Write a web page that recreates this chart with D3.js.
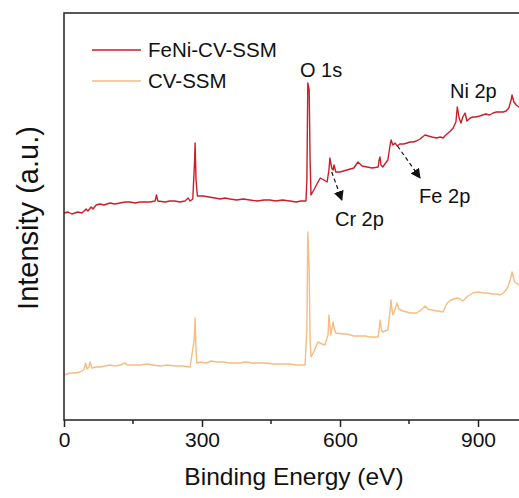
<!DOCTYPE html>
<html>
<head>
<meta charset="utf-8">
<script src="https://cdn.jsdelivr.net/npm/d3@7"></script>
<style>
  html, body { margin: 0; padding: 0; background: #fff; }
  svg { display: block; font-family: "Liberation Sans", Arial, sans-serif; }
</style>
</head>
<body>
<div id="chart"></div>
<script>
// XPS survey spectra — binding energy (eV) vs intensity (a.u.)
var feniEnergy = [0, 9, 17, 30, 39, 48, 52, 59, 63, 70, 78, 87, 100, 110, 122, 133, 143, 155, 165, 176,
  187, 198, 201, 204, 220, 230, 241, 252, 263, 270, 274, 280, 284, 285, 287, 290, 302, 315, 328, 340,
  350, 361, 375, 390, 404, 420, 435, 448, 460, 475, 491, 505, 515, 526, 528, 530, 533, 535, 537, 543,
  557, 565, 572, 576, 578, 582, 585, 587, 591, 600, 615, 630, 639, 648, 659, 670, 683, 685, 687, 689,
  693, 704, 709, 711, 715, 720, 724, 730, 738, 746, 752, 759, 766, 774, 779, 785, 792, 800, 810, 818,
  824, 830, 835, 840, 846, 852, 855, 859, 863, 867, 872, 876, 883, 889, 895, 904, 910, 917, 925, 933,
  940, 948, 955, 961, 967, 972, 974, 978, 983, 989, 1000];
var feniIntensity = [207, 208, 206, 208, 207, 211, 209, 213, 211, 215, 216, 215, 217, 216, 217, 218, 218, 217, 218, 218,
  218, 219, 225, 219, 218, 219, 219, 218, 219, 222, 219, 221, 260, 277, 240, 224, 224, 223, 222, 221,
  222, 221, 220, 221, 220, 219, 220, 220, 219, 220, 219, 218, 219, 219, 240, 337, 330, 260, 225, 230,
  242, 240, 238, 250, 262, 252, 250, 255, 248, 248, 250, 252, 258, 254, 253, 252, 253, 260, 263, 255,
  253, 260, 275, 280, 275, 277, 274, 276, 276, 277, 278, 278, 279, 281, 283, 285, 284, 283, 282, 283,
  282, 285, 287, 289, 292, 298, 313, 302, 297, 303, 307, 299, 302, 303, 303, 304, 305, 306, 305, 307,
  308, 308, 308, 309, 312, 320, 325, 318, 315, 313, 314];

var cvEnergy = [0, 13, 24, 35, 43, 47, 50, 54, 57, 61, 70, 78, 90, 100, 111, 122, 133, 137, 150, 165,
  180, 193, 209, 225, 241, 258, 274, 283, 285, 287, 289, 296, 310, 320, 333, 346, 360, 383, 395, 410,
  426, 440, 455, 470, 490, 505, 524, 528, 530, 533, 535, 537, 543, 552, 561, 567, 574, 576, 579, 580,
  585, 587, 591, 607, 615, 622, 630, 643, 655, 665, 672, 683, 685, 687, 690, 693, 704, 709, 711, 713,
  715, 720, 724, 728, 737, 752, 767, 776, 785, 791, 800, 824, 833, 841, 854, 861, 867, 878, 889, 900,
  911, 920, 933, 940, 948, 955, 959, 965, 970, 974, 978, 980, 989, 1000];
var cvIntensity = [45, 47, 47, 48, 50, 57, 51, 53, 58, 52, 53, 53, 54, 55, 54, 55, 57, 55, 55, 55,
  56, 55, 54, 55, 54, 54, 53, 80, 102, 70, 57, 58, 57, 59, 58, 58, 57, 57, 58, 57,
  57, 57, 56, 56, 56, 55, 55, 90, 188, 150, 80, 63, 68, 78, 76, 75, 85, 105, 90, 85,
  98, 92, 87, 86, 86, 85, 84, 84, 84, 83, 83, 83, 90, 100, 90, 88, 90, 110, 120, 110,
  105, 111, 117, 111, 109, 107, 107, 110, 114, 111, 110, 108, 117, 120, 122, 121, 119, 124, 127, 128,
  127, 127, 126, 126, 125, 127, 129, 133, 140, 148, 141, 138, 135, 134];

var seriesNames = ["FeNi-CV-SSM", "CV-SSM"];
var seriesColors = ["#c91f28", "#f6bc80"];

var xTicks = [0, 300, 600, 900];
var xMinorTicks = [150, 450, 750, 1050];

// peak labels: [text, energy, intensity]
var peakLabels = [["O 1s", 513, 343], ["Cr 2p", 589, 194], ["Fe 2p", 772, 217], ["Ni 2p", 839, 322]];
// dashed arrows: [fromE, fromI, toE, toI]
var peakArrows = [[582, 248, 604, 220], [725, 274, 774, 242]];

var W = 519, H = 498;
var margin = { left: 64, top: 13, bottom: 78 };
var plotW = 460;
var plotH = H - margin.top - margin.bottom;

var svg = d3.select("#chart").append("svg")
  .attr("width", W)
  .attr("height", H);

var x = d3.scaleLinear().domain([0, 1000]).range([margin.left, margin.left + plotW]);
var y = d3.scaleLinear().domain([0, 407]).range([margin.top + plotH, margin.top]);

var line = d3.line()
  .x(function (d) { return x(d[0]); })
  .y(function (d) { return y(d[1]); });

var series = [
  d3.zip(feniEnergy, feniIntensity),
  d3.zip(cvEnergy, cvIntensity)
];

// ── Curves ─────────────────────────────────────────────
series.forEach(function (s, i) {
  svg.append("path")
    .datum(s)
    .attr("d", line)
    .attr("fill", "none")
    .attr("stroke", seriesColors[i])
    .attr("stroke-width", 1.4)
    .attr("stroke-linejoin", "round");
});

// ── Frame & axis ───────────────────────────────────────
svg.append("rect")
  .attr("x", margin.left).attr("y", margin.top)
  .attr("width", plotW).attr("height", plotH)
  .attr("fill", "none")
  .attr("stroke", "#222")
  .attr("stroke-width", 1.5);

var xAxis = svg.append("g")
  .attr("transform", "translate(0," + (margin.top + plotH) + ")")
  .call(d3.axisBottom(x).tickValues(xTicks).tickSize(7).tickPadding(5).tickFormat(d3.format("d")));
xAxis.select(".domain").remove();
xAxis.selectAll("line").attr("stroke", "#222").attr("stroke-width", 1.5);
xAxis.selectAll("text").attr("font-size", "21px").attr("fill", "#111")
  .attr("font-family", "Liberation Sans, Arial, sans-serif");

svg.append("g")
  .selectAll("line")
  .data(xMinorTicks)
  .join("line")
  .attr("x1", function (d) { return x(d); })
  .attr("x2", function (d) { return x(d); })
  .attr("y1", margin.top + plotH)
  .attr("y2", margin.top + plotH + 4)
  .attr("stroke", "#222")
  .attr("stroke-width", 1.5);

svg.append("text")
  .attr("x", 294).attr("y", 485)
  .attr("text-anchor", "middle")
  .attr("font-size", "24.5px")
  .attr("fill", "#111")
  .text("Binding Energy (eV)");

svg.append("text")
  .attr("transform", "translate(38,218) rotate(-90)")
  .attr("text-anchor", "middle")
  .attr("font-size", "29px")
  .attr("fill", "#111")
  .text("Intensity (a.u.)");

// ── Peak labels & arrows ───────────────────────────────
svg.append("defs").append("marker")
  .attr("id", "arrow")
  .attr("viewBox", "0 0 10 10")
  .attr("refX", 9).attr("refY", 5)
  .attr("markerWidth", 10).attr("markerHeight", 10)
  .attr("markerUnits", "userSpaceOnUse")
  .attr("orient", "auto")
  .append("path")
  .attr("d", "M0,0 L10,5 L0,10 Z")
  .attr("fill", "#111");

svg.append("g")
  .selectAll("line")
  .data(peakArrows)
  .join("line")
  .attr("x1", function (d) { return x(d[0]); })
  .attr("y1", function (d) { return y(d[1]); })
  .attr("x2", function (d) { return x(d[2]); })
  .attr("y2", function (d) { return y(d[3]); })
  .attr("stroke", "#111")
  .attr("stroke-width", 1.2)
  .attr("stroke-dasharray", "4,3")
  .attr("marker-end", "url(#arrow)");

svg.append("g")
  .selectAll("text")
  .data(peakLabels)
  .join("text")
  .attr("x", function (d) { return x(d[1]); })
  .attr("y", function (d) { return y(d[2]); })
  .attr("font-size", "20px")
  .attr("fill", "#111")
  .text(function (d) { return d[0]; });

// ── Legend ─────────────────────────────────────────────
var lgd = svg.append("g").attr("transform", "translate(92,50)");
seriesNames.forEach(function (name, i) {
  var row = lgd.append("g").attr("transform", "translate(0," + (i * 31) + ")");
  row.append("line")
    .attr("x1", 0).attr("x2", 49)
    .attr("stroke", seriesColors[i])
    .attr("stroke-width", 1.5);
  row.append("text")
    .attr("x", 56).attr("y", 7)
    .attr("font-size", "20.5px")
    .attr("fill", "#111")
    .text(name);
});
</script>
</body>
</html>
